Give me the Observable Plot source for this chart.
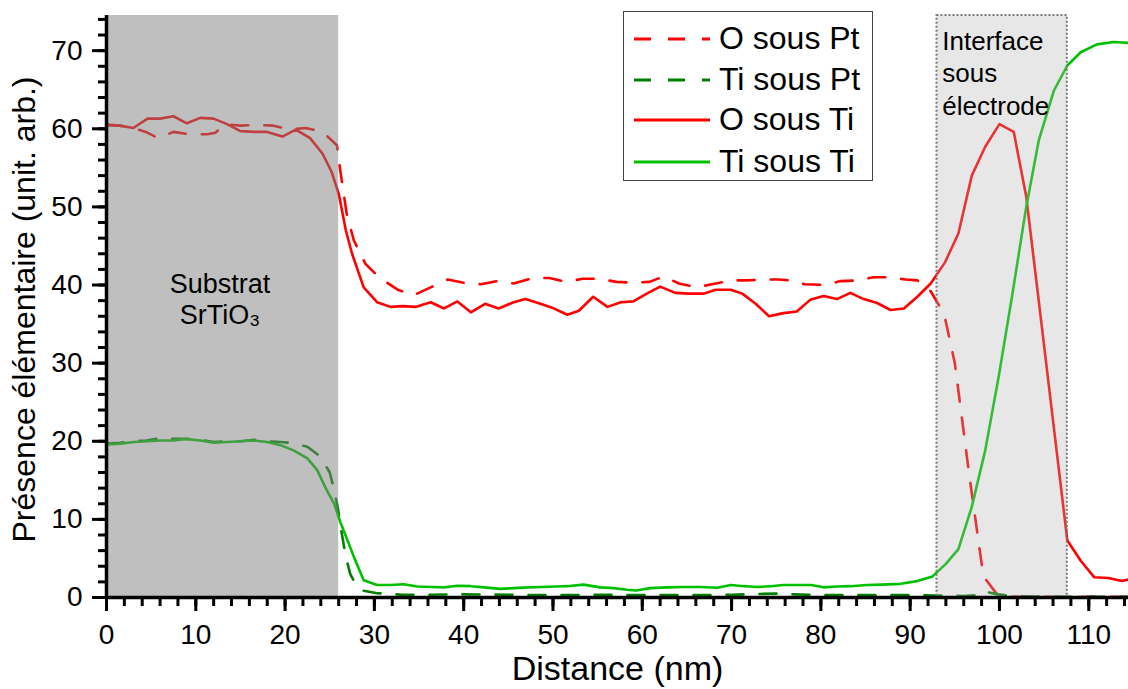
<!DOCTYPE html>
<html>
<head>
<meta charset="utf-8">
<script src="https://cdn.jsdelivr.net/npm/d3@7"></script>
<script src="https://cdn.jsdelivr.net/npm/@observablehq/plot@0.6"></script>
<style>
  html, body { margin: 0; padding: 0; background: #fff; }
  #wrap { position: relative; width: 1128px; height: 689px; font-family: "Liberation Sans", Arial, sans-serif; }
  #legend { position: absolute; left: 623px; top: 11px; width: 250px; height: 170px; box-sizing: border-box;
            border: 1px solid #444; background: #fff; }
  .lrow { position: absolute; left: 0; height: 40px; width: 100%; }
  .lrow svg { position: absolute; left: 8px; top: 0; }
  .lrow span { position: absolute; left: 95px; top: 50%; transform: translateY(-52%); font-size: 32px; color: #000; white-space: nowrap; }
</style>
</head>
<body>
<div id="wrap"></div>
<script>
// ---- data (distance nm, value) ----
const oSousPt = [[0,60.5],[1.5,60.4],[3.0,60.1],[4.4,59.6],[5.8,58.8],[7.5,59.6],[9.2,59.3],[11.3,59.3],[12.2,59.5],[13.3,60.6],[15.0,60.4],[16.9,60.5],[18.7,60.4],[20.6,59.9],[22.3,60.1],[24.2,59.6],[25.8,57.9],[26.2,54.5],[26.9,49.1],[27.7,45.7],[29.0,42.7],[30.5,41.0],[32.6,39.4],[34.4,38.7],[36.3,39.7],[38.2,40.7],[40.0,40.3],[41.9,40.1],[43.8,40.5],[45.6,40.2],[47.8,40.9],[49.6,40.9],[51.5,40.4],[53.3,40.8],[55.2,40.8],[57.1,40.4],[58.9,40.3],[60.8,40.4],[62.4,41.1],[64.1,40.2],[66.1,39.7],[67.8,40.1],[70.0,40.6],[71.7,40.6],[73.6,40.7],[75.3,40.7],[76.5,40.6],[78.2,40.1],[80.5,40.0],[82.2,40.5],[84.2,40.6],[85.9,41.0],[87.7,41.0],[89.5,40.7],[90.8,40.6],[92.3,39.2],[93.8,36.3],[95.0,30.0],[96.6,15.8],[98.2,2.7],[99.8,0.3],[101.3,0.1],[104.4,0.1],[107.5,0.05],[110.6,0.1],[114.4,0.05]];
const tiSousPt = [[0,19.7],[1.5,19.8],[3.0,20.0],[4.5,20.1],[6.0,20.4],[7.5,20.3],[9.0,20.3],[10.5,20.2],[12.0,19.9],[13.5,20.0],[15.0,20.0],[16.5,20.2],[18.0,20.0],[19.5,19.9],[20.6,19.8],[22.5,19.3],[24.0,18.0],[25.0,16.0],[25.5,13.7],[25.9,11.5],[26.3,8.5],[26.8,5.2],[27.3,3.0],[28.0,1.5],[28.6,0.9],[30.3,0.55],[33.1,0.35],[36.0,0.35],[40.0,0.4],[45.0,0.35],[50.0,0.3],[55.0,0.35],[60.0,0.3],[65.0,0.3],[70.0,0.35],[73.0,0.45],[75.0,0.5],[77.0,0.4],[80.0,0.3],[85.0,0.3],[90.0,0.3],[93.0,0.25],[96.0,0.2],[97.5,0.3],[98.1,0.8],[99.9,0.4],[101.5,0.15],[105.0,0.1],[110.0,0.1],[114.4,0.1]];
const oSousTi = [[0,60.5],[1.5,60.4],[3.0,60.1],[4.6,61.3],[6.0,61.3],[7.5,61.6],[9.0,60.7],[10.5,61.4],[12.0,61.3],[13.5,60.6],[15.0,59.7],[16.5,59.6],[18.0,59.6],[19.7,59.0],[21.2,59.9],[22.8,58.8],[24.2,56.8],[25.2,54.5],[26.0,51.7],[26.8,47.0],[27.5,44.0],[28.8,39.7],[30.3,37.8],[31.8,37.2],[33.2,37.3],[34.6,37.2],[36.3,37.8],[37.8,37.0],[39.3,37.9],[40.8,36.5],[42.4,37.6],[43.9,37.0],[45.6,37.8],[46.9,38.2],[48.6,37.6],[49.9,37.1],[51.6,36.2],[52.9,36.7],[54.5,38.5],[56.1,37.2],[57.6,37.8],[59.0,37.9],[60.5,38.9],[62.0,39.8],[63.7,39.0],[65.2,38.9],[66.9,38.9],[68.2,39.4],[69.9,39.4],[71.2,38.9],[72.7,37.6],[74.2,36.0],[75.8,36.4],[77.3,36.6],[78.8,38.1],[80.3,38.6],[81.8,38.2],[83.3,39.0],[84.8,38.2],[86.3,37.7],[87.8,36.8],[89.3,37.0],[90.8,38.5],[92.3,40.2],[93.9,42.9],[95.4,46.6],[96.9,54.0],[98.4,57.7],[100.0,60.6],[101.6,59.6],[103.0,51.3],[104.5,37.0],[106.0,22.6],[107.6,7.3],[109.1,4.7],[110.6,2.6],[112.2,2.5],[113.7,2.1],[114.4,2.3]];
const tiSousTi = [[0,19.6],[1.5,19.7],[3.1,19.9],[4.6,20.0],[6.0,20.1],[7.5,20.1],[8.8,20.3],[10.5,20.1],[12.0,19.8],[13.5,19.9],[15.0,20.0],[16.5,20.1],[18.0,19.9],[19.5,19.5],[21.0,18.8],[22.5,17.8],[23.6,16.3],[24.5,14.1],[25.5,12.0],[26.2,9.6],[27.0,7.3],[27.7,5.2],[28.8,2.2],[30.3,1.6],[31.8,1.6],[33.3,1.7],[34.8,1.4],[36.3,1.35],[37.8,1.3],[39.3,1.5],[40.8,1.45],[42.3,1.3],[44.1,1.1],[45.6,1.2],[47.3,1.3],[48.8,1.35],[50.3,1.4],[51.6,1.45],[53.4,1.65],[55.3,1.3],[56.8,1.2],[58.3,1.0],[59.3,0.9],[60.9,1.2],[62.8,1.3],[64.6,1.35],[66.5,1.35],[68.4,1.25],[69.9,1.6],[71.4,1.45],[72.9,1.35],[74.4,1.45],[75.8,1.6],[77.3,1.6],[78.9,1.6],[80.3,1.3],[81.8,1.4],[83.3,1.45],[85.2,1.6],[86.8,1.65],[88.9,1.75],[90.8,2.1],[92.5,2.7],[94.0,4.3],[95.4,6.2],[96.9,11.6],[98.4,18.8],[99.9,28.2],[101.4,38.5],[103.0,50.0],[104.4,58.5],[106.1,64.9],[107.6,68.1],[109.1,69.8],[110.9,70.8],[112.8,71.1],[114.4,71.0]];

const seriesNames = ["O sous Pt", "Ti sous Pt", "O sous Ti", "Ti sous Ti"];
const seriesColors = ["#ff0000", "#007f00", "#ff0000", "#00c000"];
const seriesDashed = [true, true, false, false];
const seriesData = [oSousPt, tiSousPt, oSousTi, tiSousTi];

// regions
const substrateRegion = [0, 26];
const interfaceRegion = [93.0, 107.6];
const substrateLabel = "Substrat\nSrTiO₃";
const interfaceLabel = "Interface\nsous\nélectrode";

// axes
const xMajorTicks = [0,10,20,30,40,50,60,70,80,90,100,110];
const xMinorTicks = [0,2,4,6,8,10,12,14,16,18,20,22,24,26,28,30,32,34,36,38,40,42,44,46,48,50,52,54,56,58,60,62,64,66,68,70,72,74,76,78,80,82,84,86,88,90,92,94,96,98,100,102,104,106,108,110,112,114];
const yMajorTicks = [0,10,20,30,40,50,60,70];
const yMinorTicks = [0,2,4,6,8,10,12,14,16,18,20,22,24,26,28,30,32,34,36,38,40,42,44,46,48,50,52,54,56,58,60,62,64,66,68,70,72,74];
const xDomain = [0, 114.45];
const yDomain = [0, 74.5];
const xTitle = "Distance (nm)";
const yTitle = "Présence élémentaire (unit. arb.)";

const rows = [];
seriesData.forEach((arr, i) => arr.forEach(([d, v]) => rows.push({d, v, s: seriesNames[i]})));

const lineMarks = [0, 1, 2, 3].map(i =>
  Plot.line(rows.filter(r => r.s === seriesNames[i]), {
    x: "d", y: "v", stroke: seriesColors[i], strokeWidth: 2.6,
    strokeDasharray: seriesDashed[i] ? "17,16" : null, strokeLinejoin: "round"
  })
);

const plot = Plot.plot({
  width: 1128, height: 689,
  marginLeft: 106, marginRight: 0, marginTop: 15, marginBottom: 92,
  style: {fontFamily: "Liberation Sans, Arial, sans-serif", color: "#000", background: "#fff", overflow: "visible"},
  x: {domain: xDomain},
  y: {domain: yDomain},
  marks: [
    ...lineMarks,
    Plot.rect([{x1: substrateRegion[0], x2: substrateRegion[1]}], {x1: "x1", x2: "x2", y1: yDomain[0], y2: yDomain[1], fill: "#808080", fillOpacity: 0.5}),
    Plot.rect([{x1: interfaceRegion[0], x2: interfaceRegion[1]}], {x1: "x1", x2: "x2", y1: yDomain[0], y2: yDomain[1], fill: "#b0b0b0", fillOpacity: 0.3, stroke: "#7a7a7a", strokeWidth: 2, strokeDasharray: "2,2"}),
    Plot.text([substrateLabel], {x: 12.7, y: 38.3, text: d => d, fontSize: 27, lineHeight: 1.18, fill: "#000"}),
    Plot.text([interfaceLabel], {x: 93.6, y: 73.0, text: d => d, fontSize: 26, lineHeight: 1.24, textAnchor: "start", lineAnchor: "top", fill: "#000"}),
    Plot.axisX(xMinorTicks, {tickSize: 9, strokeWidth: 3, tickFormat: () => "", label: null}),
    Plot.axisX(xMajorTicks, {tickSize: 14, tickPadding: 13, strokeWidth: 3, fontSize: 28, label: null}),
    Plot.axisY(yMinorTicks, {tickSize: 8, strokeWidth: 3, tickFormat: () => "", label: null}),
    Plot.axisY(yMajorTicks, {tickSize: 14, strokeWidth: 3, tickFormat: () => "", label: null}),
    Plot.text(yMajorTicks, {y: d => d, text: d => String(d), frameAnchor: "left", textAnchor: "end", dx: -24, fontSize: 28, fill: "#000"}),
    Plot.ruleY([0], {stroke: "#000", strokeWidth: 3.5}),
    Plot.ruleX([0], {stroke: "#000", strokeWidth: 3.5}),
    Plot.text([xTitle], {frameAnchor: "bottom", dy: 82, fontSize: 34, text: d => d, fill: "#000"}),
    Plot.text([yTitle], {frameAnchor: "left", dx: -82, dy: 3, rotate: -90, textAnchor: "middle", fontSize: 32, text: d => d, fill: "#000"})
  ]
});

const wrap = document.getElementById("wrap");
wrap.appendChild(plot);

// legend
const legend = document.createElement("div");
legend.id = "legend";
const rowCenters = [27, 68, 108, 150];
seriesNames.forEach((name, i) => {
  const row = document.createElement("div");
  row.className = "lrow";
  row.style.top = (rowCenters[i] - 20) + "px";
  const dash = seriesDashed[i] ? 'stroke-dasharray="17,17"' : "";
  row.innerHTML = `<svg width="80" height="40"><line x1="2" y1="20" x2="78" y2="20" stroke="${seriesColors[i]}" stroke-width="3" ${dash}/></svg><span>${name}</span>`;
  legend.appendChild(row);
});
wrap.appendChild(legend);
</script>
</body>
</html>
